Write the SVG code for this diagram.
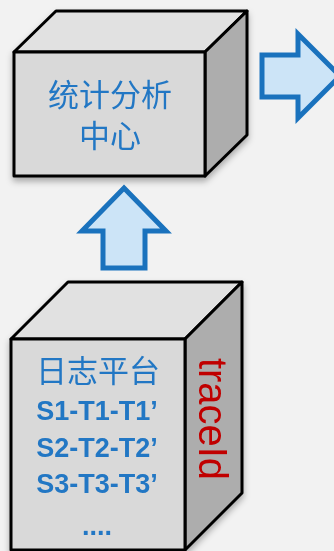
<svg xmlns="http://www.w3.org/2000/svg" width="334" height="551" viewBox="0 0 334 551">
<style>
.face{stroke:#000;stroke-width:3;stroke-linejoin:round}
.front{fill:#d9d9d9}
.top{fill:#e1e1e1}
.side{fill:#adadad}
.arrow{fill:#cce4f7;stroke:#1a72bd;stroke-width:5;stroke-linejoin:miter}
.cjk{font-family:"Noto Sans CJK SC","Noto Sans",sans-serif;font-size:31px;fill:#2277c4;text-anchor:middle}
.lat{font-family:"Liberation Sans",Arial,sans-serif;font-weight:bold;font-size:27px;fill:#2277c4;text-anchor:middle}
.red{font-family:"Liberation Sans",Arial,sans-serif;font-size:40px;fill:#c00000}
</style>
<defs>
<filter id="sh" x="-20%" y="-20%" width="140%" height="140%">
<feDropShadow dx="0" dy="4" stdDeviation="3" flood-color="#000" flood-opacity="0.3"/>
</filter>
</defs>
<rect width="334" height="551" fill="#f2f2f2"/>
<g id="connectors">
<polygon class="arrow" points="262,55 298,55 298,34 340,76 298,118 298,97 262,97"/>
<polygon class="arrow" points="124,188 166,231 145,231 145,268 103,268 103,231 82,231"/>
</g>
<g id="stats" filter="url(#sh)">
<polygon class="face top" points="14,52 56,11 247,11 205,52"/>
<polygon class="face side" points="205,52 247,11 247,135 205,176"/>
<rect class="face front" x="14" y="52" width="191" height="124"/>
<text class="cjk" x="110" y="106">统计分析</text>
<text class="cjk" x="110" y="147">中心</text>
</g>
<g id="log" filter="url(#sh)">
<polygon class="face top" points="11,339 68,282 242,282 185,339"/>
<polygon class="face side" points="185,339 242,282 242,493 185,550"/>
<rect class="face front" x="11" y="339" width="174" height="211"/>
<text class="cjk" x="98" y="382">日志平台</text>
<text class="lat" x="97" y="420">S1-T1-T1’</text>
<text class="lat" x="97" y="457">S2-T2-T2’</text>
<text class="lat" x="97" y="493">S3-T3-T3’</text>
<text class="lat" x="97" y="535">....</text>
<text class="red" transform="translate(199,358) rotate(90)" textLength="122" lengthAdjust="spacingAndGlyphs">traceId</text>
</g>
</svg>
